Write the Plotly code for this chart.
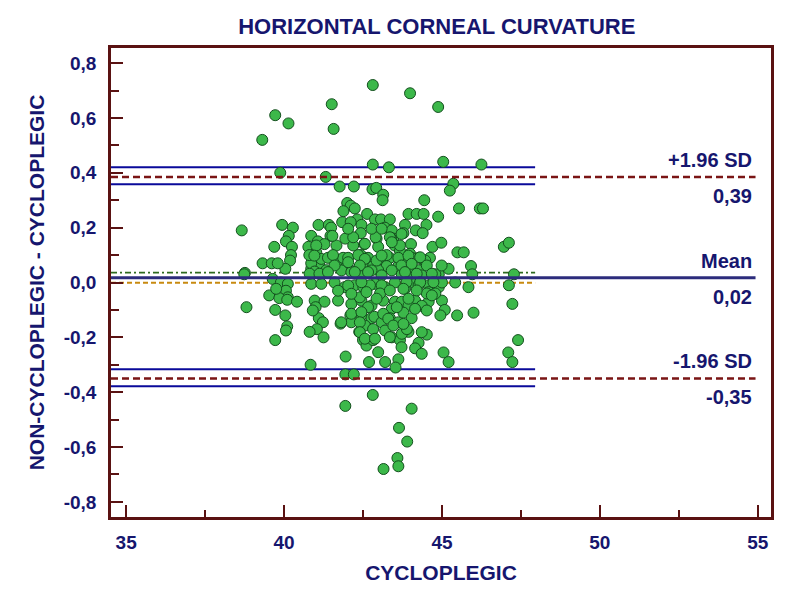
import plotly.graph_objects as go

# ---- data ----
cyclo = [42.81,43.99,44.88,41.51,39.72,40.14,41.57,39.31,
 42.81,43.32,45.04,46.25,39.88,41.32,41.76,42.21,42.80,42.92,43.14,43.12,45.36,45.25,44.44,45.54,46.2,46.3,44.88,38.66,39.69,46.96,47.12,45.49,45.69,
 42.0,42.11,42.24,41.88,41.84,42.63,42.32,42.45,42.88,43.07,43.35,43.19,43.41,43.46,43.94,44.2,44.42,43.83,44.17,44.51,44.39,41.09,41.42,41.49,41.47,39.94,40.28,40.15,40.06,40.25,40.86,41.07,41.28,40.77,41.66,41.94,42.19,42.43,42.54,42.93,42.98,43.39,43.5,43.78,44.02,44.7,44.98,
 40.22,40.19,40.04,39.32,39.61,38.76,41.02,41.53,42.11,42.19,42.43,42.66,40.97,41.12,41.34,41.5,41.66,41.87,41.97,42.35,42.61,42.82,40.86,
 42.9,43.67,43.99,43.35,43.09,43.89,44.26,44.62,44.47,45.92,47.28,43.25,43.62,42.98,44.26,45.96,44.9,
 39.8,39.64,39.9,40.12,40.06,40.12,39.53,40.86,40.97,41.18,41.39,41.55,40.8,42.03,42.35,42.56,42.93,43.25,43.62,44.04,44.47,
 41.82,42.13,42.45,42.77,43.09,43.41,43.73,44.04,44.36,44.79,45.21,
 40.86,41.18,41.6,41.92,42.24,42.56,42.88,43.2,43.51,43.83,44.15,44.58,44.9,45.0,45.42,47.12,
 40.97,41.28,41.71,42.13,42.45,42.77,43.14,43.51,43.83,44.15,44.58,45.0,45.84,47.23,
 38.81,39.85,40.1,40.41,39.75,39.72,40.04,40.1,40.06,39.72,41.71,42.51,42.72,41.0,41.1,41.23,41.04,40.81,41.25,41.79,41.95,40.84,42.4,42.1,42.45,42.77,42.13,42.56,42.38,42.82,42.5,42.61,42.82,42.69,
 43.09,44.26,44.58,47.41,47.1,47.23,
 43.04,43.41,43.73,43.94,44.52,44.36,44.79,45.09,44.95,45.48,46.0,42.86,43.09,43.35,43.62,43.78,44.04,43.2,43.41,43.67,43.94,43.73,44.52,44.26,44.15,44.36,45.05,45.21,43.2,43.62,43.53,43.89,
 41.94,42.21,42.81,41.94,44.04,43.64,43.9,43.59,43.62,43.15,38.74,
 # dense core
 42.03,42.77,43.09,43.35,43.72,41.02,42.56,43.67,43.41,
 40.96,43.09,43.94,44.31,41.6,42.03,42.4,43.72,44.04,44.52,44.99,
 40.81,41.12,41.39,42.24,42.66,43.83,44.2,44.68,42.03,42.45,43.88,44.31,44.73,
 42.13,42.61,43.35,43.78,44.2,42.93,43.94,44.68,
 42.66,43.57,44.15,44.52,40.91,42.13,42.45,43.14,43.3,
 41.81,42.4,43.46,43.78,44.36,42.4,42.56,42.88,43.35,
 43.72,42.98]
diff = [0.72,0.69,0.64,0.65,0.61,0.58,0.56,0.52,
 0.43,0.42,0.44,0.43,0.40,0.385,0.35,0.35,0.34,0.345,0.32,0.30,0.36,0.335,0.30,0.27,0.27,0.27,0.24,0.19,0.13,0.13,0.145,0.11,0.11,
 0.29,0.28,0.27,0.26,0.22,0.25,0.23,0.21,0.23,0.23,0.23,0.20,0.19,0.16,0.25,0.25,0.25,0.21,0.19,0.21,0.18,0.21,0.21,0.20,0.17,0.21,0.20,0.17,0.15,0.13,0.17,0.15,0.14,0.13,0.135,0.16,0.135,0.18,0.14,0.16,0.13,0.16,0.135,0.18,0.14,0.13,0.145,
 0.10,0.08,0.05,0.07,0.07,0.035,0.11,0.17,0.22,0.165,0.10,0.09,0.065,0.06,0.045,0.09,0.07,0.09,0.055,0.05,0.05,0.06,0.05,
 0.165,0.115,0.105,0.09,0.085,0.08,0.09,0.09,0.07,0.06,0.03,0.06,0.06,0.045,0.045,0.03,0.03,
 0.07,0.013,0.0,-0.005,-0.03,-0.054,-0.047,0.07,0.04,0.086,0.09,0.1,0.1,0.09,0.1,0.086,0.08,0.1,0.09,0.09,0.08,
 0.044,0.038,0.03,0.044,0.026,0.044,0.03,0.038,0.026,0.03,0.05,
 -0.005,-0.005,0.0,-0.017,-0.01,-0.023,-0.005,-0.017,0.0,-0.023,-0.005,-0.01,-0.017,0.0,0.0,-0.01,
 -0.066,-0.07,-0.066,-0.078,-0.066,-0.084,-0.066,-0.07,-0.078,-0.066,-0.07,-0.066,-0.017,-0.078,
 -0.09,-0.057,-0.063,-0.07,-0.023,-0.10,-0.12,-0.16,-0.175,-0.21,-0.03,-0.017,-0.01,-0.09,-0.13,-0.145,-0.17,-0.18,-0.20,-0.15,-0.27,-0.30,-0.054,-0.12,-0.12,-0.13,-0.145,-0.157,-0.18,-0.17,-0.21,-0.23,-0.21,-0.29,
 -0.01,-0.01,-0.035,-0.21,-0.255,-0.29,
 -0.04,-0.096,-0.07,-0.085,-0.04,-0.085,-0.04,-0.10,-0.12,-0.12,-0.11,-0.125,-0.145,-0.13,-0.145,-0.11,-0.13,-0.175,-0.2,-0.21,-0.18,-0.187,-0.19,-0.22,-0.24,-0.26,-0.255,-0.29,-0.29,-0.28,-0.31,-0.17,
 -0.335,-0.335,-0.41,-0.45,-0.46,-0.53,-0.58,-0.64,-0.67,-0.68,0.03,
 # dense core
 0.196,0.196,0.196,0.165,0.177,0.135,0.141,0.135,0.147,
 0.098,0.098,0.098,0.092,0.062,0.074,0.062,0.062,0.068,0.062,0.062,
 0.032,0.032,0.038,0.038,0.038,0.038,0.032,0.032,-0.011,0.001,0.001,0.001,0.001,
 -0.041,-0.035,-0.029,-0.023,-0.029,-0.059,-0.059,-0.047,
 -0.09,-0.09,-0.096,-0.102,-0.102,-0.114,-0.108,-0.114,-0.132,
 -0.145,-0.145,-0.157,-0.151,-0.181,-0.181,-0.205,-0.205,-0.199,
 -0.236,-0.254]

mean_diff = 0.017
mean_ci = [-0.001, 0.036]
upper_loa = 0.385
upper_loa_ci = [0.358, 0.42]
lower_loa = -0.35
lower_loa_ci = [-0.378, -0.316]
x_axis_range = [34.52, 55.42]
y_axis_range = [-0.855, 0.855]
ci_x_end = 47.95
loa_x_end = 54.93

x_ticks = [35, 40, 45, 50, 55]
y_ticks = [-0.8, -0.6, -0.4, -0.2, 0.0, 0.2, 0.4, 0.6, 0.8]
y_tick_labels = ["-0,8", "-0,6", "-0,4", "-0,2", "0,0", "0,2", "0,4", "0,6", "0,8"]

labels_upper = ["+1.96 SD", "0,39"]
labels_mean = ["Mean", "0,02"]
labels_lower = ["-1.96 SD", "-0,35"]

navy = "#16166e"
frame = "#5a1212"
FONT = "Liberation Sans, Arial, sans-serif"

fig = go.Figure()

def hline(y, x1, color, width, dash):
    fig.add_trace(go.Scatter(x=[x_axis_range[0], x1], y=[y, y], mode="lines",
                             line=dict(color=color, width=width, dash=dash),
                             hoverinfo="skip", showlegend=False))

# CI lines
for v in upper_loa_ci + lower_loa_ci:
    hline(v, ci_x_end, "#0a0a9a", 2, "solid")
hline(mean_ci[1], ci_x_end, "#2e6b1e", 1.6, "6px,3px,2px,3px")
hline(mean_ci[0], ci_x_end, "#c88a10", 1.8, "5px,3px")

# scatter
fig.add_trace(go.Scatter(x=cyclo, y=diff, mode="markers",
                         marker=dict(size=11, color="#3cb84a",
                                     line=dict(color="#14501e", width=1)),
                         showlegend=False))

# LoA and mean
hline(upper_loa, loa_x_end, "#7a1515", 2.5, "7px,4px")
hline(lower_loa, loa_x_end, "#7a1515", 2.5, "7px,4px")
hline(mean_diff, loa_x_end, "#2c2c7c", 3, "solid")

lab_x = 54.87
for yv, labs in [(upper_loa, labels_upper), (mean_diff, labels_mean), (lower_loa, labels_lower)]:
    fig.add_annotation(x=lab_x, y=yv, xref="x", yref="y", text=labs[0], showarrow=False,
                       xanchor="right", yanchor="middle", yshift=17,
                       font=dict(family=FONT, size=20, color=navy, weight="bold"))
    fig.add_annotation(x=lab_x, y=yv, xref="x", yref="y", text=labs[1], showarrow=False,
                       xanchor="right", yanchor="middle", yshift=-19,
                       font=dict(family=FONT, size=20, color=navy, weight="bold"))

axis_common = dict(showline=True, mirror=True, linecolor=frame, linewidth=2.5,
                   ticks="inside", tickcolor=frame, tickwidth=2, ticklen=12,
                   showgrid=False, zeroline=False,
                   tickfont=dict(family=FONT, size=19, color=navy, weight="bold"))

fig.update_layout(
    width=800, height=600,
    margin=dict(l=111, r=29, t=48, b=83),
    paper_bgcolor="white", plot_bgcolor="white",
    title=dict(text="HORIZONTAL CORNEAL CURVATURE", x=0.546, xanchor="center",
               y=0.957, yanchor="middle",
               font=dict(family=FONT, size=22, color=navy, weight="bold")),
    xaxis=dict(range=x_axis_range, tickmode="array", tickvals=x_ticks,
               minor=dict(tickvals=[37.5, 42.5, 47.5, 52.5], ticks="inside", ticklen=7,
                          tickcolor=frame, tickwidth=2),
               ticklabelstandoff=6,
               title=dict(text="CYCLOPLEGIC", standoff=14,
                          font=dict(family=FONT, size=21, color=navy, weight="bold")),
               **axis_common),
    yaxis=dict(range=y_axis_range, tickmode="array",
               tickvals=y_ticks, ticktext=y_tick_labels,
               minor=dict(tickvals=[-0.7, -0.5, -0.3, -0.1, 0.1, 0.3, 0.5, 0.7], ticks="inside",
                          ticklen=8, tickcolor=frame, tickwidth=2),
               ticklabelstandoff=8,
               title=dict(text="NON-CYCLOPLEGIC - CYCLOPLEGIC", standoff=14,
                          font=dict(family=FONT, size=21, color=navy, weight="bold")),
               **axis_common),
)

fig.write_html("out.html")
